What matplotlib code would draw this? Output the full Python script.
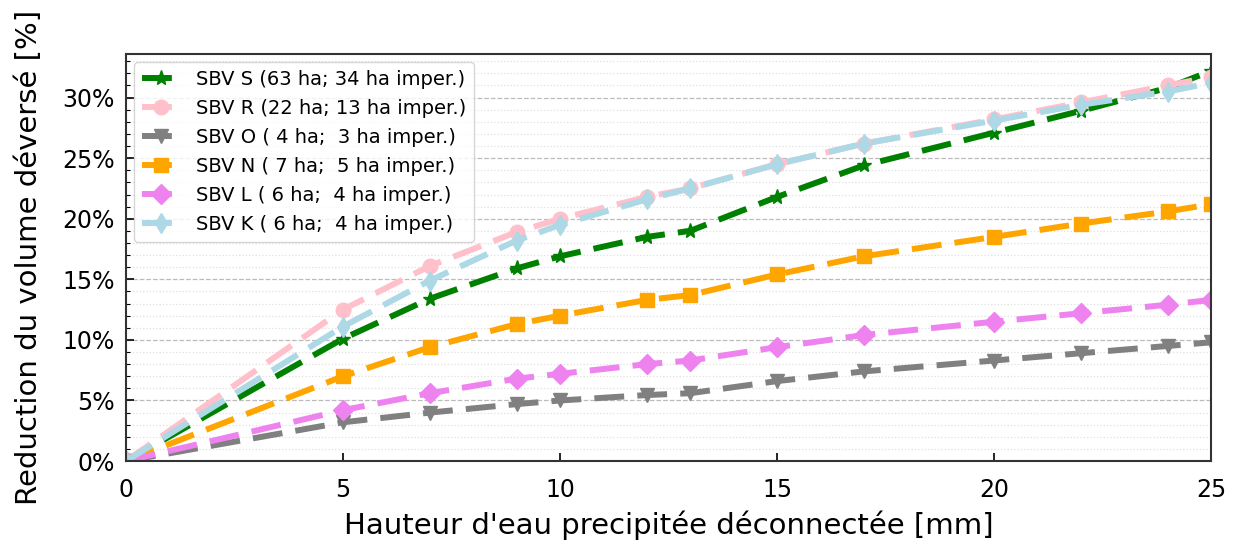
import numpy as np
import matplotlib
matplotlib.use('Agg')
import matplotlib.pyplot as plt
from matplotlib.ticker import PercentFormatter, MultipleLocator

# rain depth disconnected [mm]
hauteur = [0, 5, 7, 9, 10, 12, 13, 15, 17, 20, 22, 24, 25]

# reduction of overflow volume [%] per sub-catchment
red_S = [0, 10.1, 13.4, 15.9, 16.9, 18.5, 19.0, 21.8, 24.4, 27.1, 28.9, 30.8, 32.2]
red_R = [0, 12.5, 16.1, 18.9, 20.0, 21.8, 22.5, 24.5, 26.2, 28.2, 29.6, 31.0, 31.7]
red_O = [0, 3.2, 4.0, 4.7, 5.0, 5.45, 5.6, 6.6, 7.4, 8.3, 8.9, 9.5, 9.8]
red_N = [0, 7.0, 9.4, 11.3, 12.0, 13.3, 13.7, 15.4, 16.9, 18.5, 19.6, 20.6, 21.2]
red_L = [0, 4.2, 5.6, 6.8, 7.2, 8.0, 8.3, 9.4, 10.4, 11.5, 12.2, 12.9, 13.3]
red_K = [0, 11.1, 14.9, 18.2, 19.5, 21.6, 22.5, 24.5, 26.2, 28.1, 29.4, 30.5, 31.2]

labels = ['SBV S (63 ha; 34 ha imper.)',
          'SBV R (22 ha; 13 ha imper.)',
          'SBV O ( 4 ha;  3 ha imper.)',
          'SBV N ( 7 ha;  5 ha imper.)',
          'SBV L ( 6 ha;  4 ha imper.)',
          'SBV K ( 6 ha;  4 ha imper.)']

series = [
    (red_S, 'green', '*'),
    (red_R, 'pink', 'o'),
    (red_O, 'grey', 'v'),
    (red_N, 'orange', 's'),
    (red_L, 'violet', 'D'),
    (red_K, 'lightblue', 'd'),
]

fig = plt.figure(figsize=(12.35, 5.45), dpi=100)
ax = fig.add_axes([0.102, 0.154, 0.8786, 0.747])

for (vals, col, mk), lab in zip(series, labels):
    ax.plot(hauteur, vals, linestyle='--', dashes=(5, 2.2), color=col,
            marker=mk, linewidth=4.3, markersize=10.5 if mk != '*' else 11,
            label=lab)

ax.set_xlim(0, 25)
ax.set_ylim(0, 33.6)
ax.yaxis.set_major_locator(MultipleLocator(5))
ax.yaxis.set_minor_locator(MultipleLocator(1))
ax.yaxis.set_major_formatter(PercentFormatter(100, decimals=0))
ax.xaxis.set_major_locator(MultipleLocator(5))

ax.grid(which='major', axis='y', linestyle='--', color='#bbbbbb', linewidth=0.9)
ax.grid(which='minor', axis='y', linestyle=':', color='#e0e0e0', linewidth=0.9)

ax.tick_params(which='both', direction='in', labelsize=17)
ax.tick_params(which='major', length=6, width=1.2)
ax.tick_params(which='minor', length=3, width=0.8)
ax.tick_params(axis='x', pad=12)
ax.tick_params(axis='y', pad=8)

for sp in ax.spines.values():
    sp.set_linewidth(1.5)
    sp.set_color('#333333')

ax.set_xlabel("Hauteur d'eau precipitée déconnectée [mm]", fontsize=21, labelpad=6)
ax.set_ylabel('Reduction du volume déversé [%]', fontsize=21, labelpad=14)

ax.legend(loc='upper left', fontsize=14, handlelength=2.0, labelspacing=0.52,
          borderaxespad=0.4)

fig.savefig('out.png', dpi=100)
